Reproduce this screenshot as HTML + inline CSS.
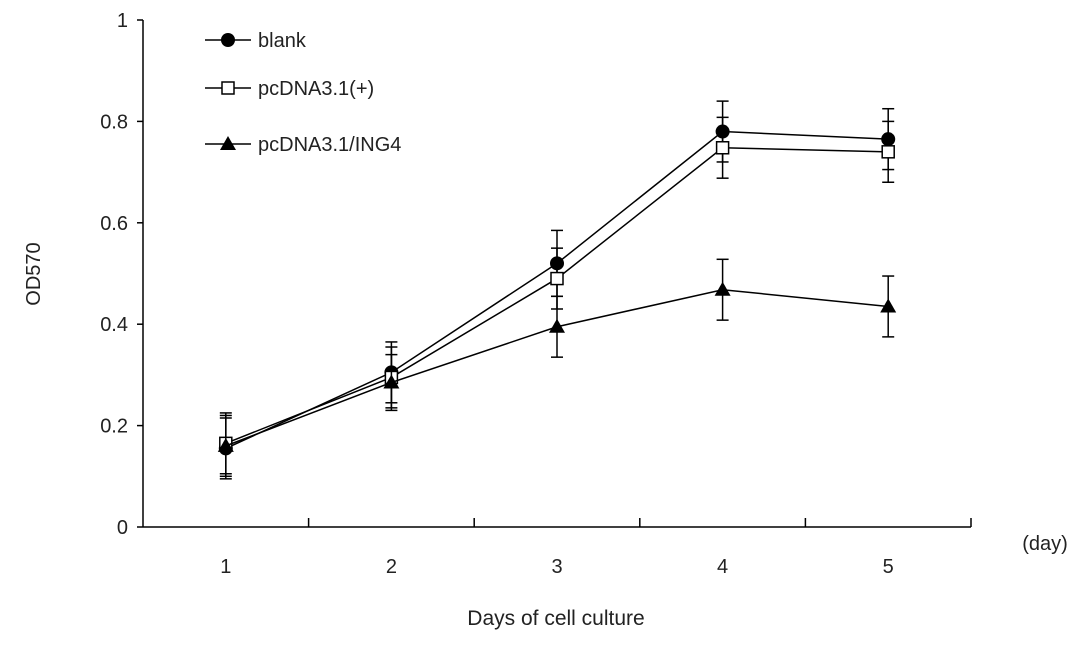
<!DOCTYPE html>
<html><head><meta charset="utf-8"><style>
html,body{margin:0;padding:0;background:#fff;}
svg{display:block;font-family:"Liberation Sans",Arial,sans-serif;}
</style></head><body>
<svg id="chart" width="1087" height="646" viewBox="0 0 1087 646">
<g id="axes"></g><g id="series"></g><g id="legend"></g>
</svg>
<script>
const categories = ["1","2","3","4","5"];
const yTicks = [0,0.2,0.4,0.6,0.8,1];
const yTickLabels = ["0","0.2","0.4","0.6","0.8","1"];
const blankValues = [0.155,0.305,0.52,0.78,0.765];
const blankErrors = [0.06,0.06,0.065,0.06,0.06];
const pcdnaValues = [0.165,0.295,0.49,0.748,0.74];
const pcdnaErrors = [0.06,0.06,0.06,0.06,0.06];
const ing4Values = [0.16,0.285,0.395,0.468,0.435];
const ing4Errors = [0.06,0.055,0.06,0.06,0.06];
const seriesNames = ["blank","pcDNA3.1(+)","pcDNA3.1/ING4"];

const NS="http://www.w3.org/2000/svg";
const x0=143,x1=971,y0=527,y1=20;
const bw=(x1-x0)/categories.length;
const xs=i=>x0+bw*(i+0.5);
const ys=v=>y0-(v/1)*(y0-y1);
function mk(tag,attrs,parent,text){const e=document.createElementNS(NS,tag);for(const k in attrs)e.setAttribute(k,attrs[k]);if(text!==undefined)e.textContent=text;parent.appendChild(e);return e;}
const axes=document.getElementById('axes');
let e=mk('line',{x1:x0,y1:y1,x2:x0,y2:y0,stroke:'#000','stroke-width':1.5},axes);


e=mk('line',{x1:x0,y1:y0,x2:x1,y2:y0,stroke:'#000','stroke-width':1.5},axes);


yTicks.forEach((t,i)=>{
 mk('line',{x1:x0-6,y1:ys(t),x2:x0,y2:ys(t),stroke:'#000','stroke-width':1.5},axes);
 const l=mk('text',{x:x0-15,y:ys(t)+7,'text-anchor':'end','font-size':20,fill:'#222'},axes,yTickLabels[i]);
 
 
});
for(let i=1;i<=categories.length;i++){mk('line',{x1:x0+bw*i,y1:y0-9,x2:x0+bw*i,y2:y0,stroke:'#000','stroke-width':1.5},axes);}
categories.forEach((c,i)=>{
 const l=mk('text',{x:xs(i),y:y0+46,'text-anchor':'middle','font-size':20,fill:'#222'},axes,c);
 
 
});
e=mk('text',{x:1045,y:550,'text-anchor':'middle','font-size':20,fill:'#222'},axes,'(day)');


e=mk('text',{x:556,y:625,'text-anchor':'middle','font-size':21,fill:'#222'},axes,'Days of cell culture');


e=mk('text',{x:0,y:0,'text-anchor':'middle','font-size':20,fill:'#222',transform:'translate(40,274) rotate(-90)'},axes,'OD570');



function marker(type,x,y,g){
 if(type==0) return mk('circle',{cx:x,cy:y,r:7,fill:'#000'},g);
 if(type==1) return mk('rect',{x:x-6,y:y-6,width:12,height:12,fill:'#fff',stroke:'#000','stroke-width':1.5},g);
 return mk('polygon',{points:`${x},${y-8} ${x-8},${y+6} ${x+8},${y+6}`,fill:'#000'},g);
}
const sGroup=document.getElementById('series');
[[blankValues,blankErrors],[pcdnaValues,pcdnaErrors],[ing4Values,ing4Errors]].forEach((s,k)=>{
 const g=mk('g',{},sGroup);
 
 
 s[0].forEach((v,i)=>{
  const x=xs(i),t=ys(v+s[1][i]),b=ys(v-s[1][i]);
  mk('line',{x1:x,y1:t,x2:x,y2:b,stroke:'#000','stroke-width':1.5},g);
  mk('line',{x1:x-6,y1:t,x2:x+6,y2:t,stroke:'#000','stroke-width':1.5},g);
  mk('line',{x1:x-6,y1:b,x2:x+6,y2:b,stroke:'#000','stroke-width':1.5},g);
 });
 mk('polyline',{points:s[0].map((v,i)=>xs(i)+','+ys(v)).join(' '),fill:'none',stroke:'#000','stroke-width':1.5},g);
 s[0].forEach((v,i)=>{const m=marker(k,xs(i),ys(v),g);
  
  });
});
const lg=document.getElementById('legend');
const ly=[40,88,144];
seriesNames.forEach((n,k)=>{
 const g=mk('g',{},lg);
 
 
 mk('line',{x1:205,y1:ly[k],x2:251,y2:ly[k],stroke:'#000','stroke-width':1.5},g);
 marker(k,228,ly[k],g);
 mk('text',{x:258,y:ly[k]+7,'font-size':20,fill:'#222'},g,n);
});
</script>
</body></html>
